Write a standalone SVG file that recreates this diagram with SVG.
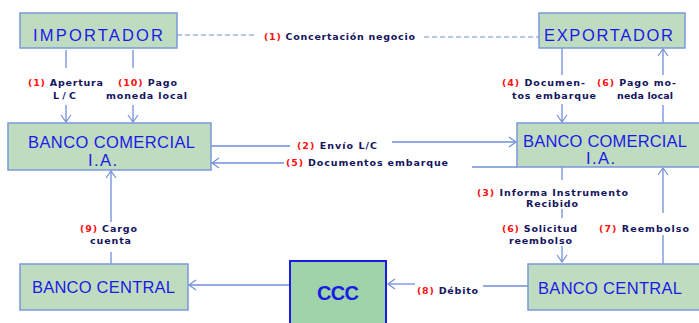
<svg xmlns="http://www.w3.org/2000/svg" width="699" height="323" viewBox="0 0 699 323">
<style>
.box{fill:#c0dcc0;stroke:#7b98dc;stroke-width:1.5}
.ccc{fill:#9fd3a9;stroke:#1a1ae6;stroke-width:2}
.bt{font-family:"Liberation Sans",Arial,sans-serif;font-size:16.5px;fill:#1a1ae6}
.ct{font-family:"Liberation Sans",Arial,sans-serif;font-size:20px;font-weight:bold;fill:#1a1ae6}
.lb{font-family:"DejaVu Sans",Verdana,sans-serif;font-size:9.5px;font-weight:bold;fill:#14145e}
.n{fill:#ff1010}
.ln{fill:none;stroke:#6f8fd8;stroke-width:1.3}
.dash{fill:none;stroke:#6f8fd8;stroke-width:1.1;stroke-dasharray:5,3}
</style>
<defs>
<marker id="ah" markerWidth="9" markerHeight="12" refX="8" refY="6" orient="auto" markerUnits="userSpaceOnUse">
<path d="M1,1 L8,6 L1,11" fill="none" stroke="#6f8fd8" stroke-width="1.2"/>
</marker>
</defs>
<rect width="699" height="323" fill="#ffffff"/>

<g id="connectors">
<path class="dash" d="M177,35 L257,35"/>
<path class="dash" d="M424,37 L539,37"/>
<path class="ln" d="M66,50 L66,68"/>
<path class="ln" d="M66,105 L66,122" marker-end="url(#ah)"/>
<path class="ln" d="M133,50 L133,68"/>
<path class="ln" d="M133,105 L133,122" marker-end="url(#ah)"/>
<path class="ln" d="M562,48 L562,75"/>
<path class="ln" d="M562,104 L562,122" marker-end="url(#ah)"/>
<path class="ln" d="M663,123 L663,105"/>
<path class="ln" d="M663,75 L663,49" marker-end="url(#ah)"/>
<path class="ln" d="M211,146 L290,146"/>
<path class="ln" d="M392,142 L516,142" marker-end="url(#ah)"/>
<path class="ln" d="M517,167 L472,167"/>
<path class="ln" d="M284,163 L212,163" marker-end="url(#ah)"/>
<path class="ln" d="M562,167 L562,180"/>
<path class="ln" d="M562,209 L562,218"/>
<path class="ln" d="M562,246 L562,262" marker-end="url(#ah)"/>
<path class="ln" d="M663,264 L663,235"/>
<path class="ln" d="M663,213 L663,168" marker-end="url(#ah)"/>
<path class="ln" d="M528,286 L483,286"/>
<path class="ln" d="M415,284 L388,284" marker-end="url(#ah)"/>
<path class="ln" d="M290,285 L189,285" marker-end="url(#ah)"/>
<path class="ln" d="M111,264 L111,252"/>
<path class="ln" d="M111,222 L111,171" marker-end="url(#ah)"/>
</g>

<g id="labels">
<text class="lb" x="264" y="40" textLength="151" lengthAdjust="spacing"><tspan class="n">(1)</tspan> Concertación negocio</text>
<text class="lb" x="28" y="86" textLength="75" lengthAdjust="spacing"><tspan class="n">(1)</tspan> Apertura</text>
<text class="lb" x="53" y="99" textLength="23" lengthAdjust="spacing">L/C</text>
<text class="lb" x="118" y="86" textLength="59" lengthAdjust="spacing"><tspan class="n">(10)</tspan> Pago</text>
<text class="lb" x="106" y="99" textLength="81" lengthAdjust="spacing">moneda local</text>
<text class="lb" x="502" y="86" textLength="83" lengthAdjust="spacing"><tspan class="n">(4)</tspan> Documen-</text>
<text class="lb" x="512" y="99" textLength="84" lengthAdjust="spacing">tos embarque</text>
<text class="lb" x="597" y="86" textLength="79" lengthAdjust="spacing"><tspan class="n">(6)</tspan> Pago mo-</text>
<text class="lb" x="617" y="99" textLength="56" lengthAdjust="spacing">neda local</text>
<text class="lb" x="297" y="149" textLength="80" lengthAdjust="spacing"><tspan class="n">(2)</tspan> Envío L/C</text>
<text class="lb" x="286" y="166" textLength="162" lengthAdjust="spacing"><tspan class="n">(5)</tspan> Documentos embarque</text>
<text class="lb" x="477" y="196" textLength="151" lengthAdjust="spacing"><tspan class="n">(3)</tspan> Informa Instrumento</text>
<text class="lb" x="526" y="207" textLength="52" lengthAdjust="spacing">Recibido</text>
<text class="lb" x="502" y="232" textLength="75" lengthAdjust="spacing"><tspan class="n">(6)</tspan> Solicitud</text>
<text class="lb" x="509" y="244" textLength="63" lengthAdjust="spacing">reembolso</text>
<text class="lb" x="599" y="232" textLength="90" lengthAdjust="spacing"><tspan class="n">(7)</tspan> Reembolso</text>
<text class="lb" x="417" y="294" textLength="61" lengthAdjust="spacing"><tspan class="n">(8)</tspan> Débito</text>
<text class="lb" x="80" y="232" textLength="57" lengthAdjust="spacing"><tspan class="n">(9)</tspan> Cargo</text>
<text class="lb" x="90" y="244" textLength="41" lengthAdjust="spacing">cuenta</text>
</g>

<g id="importador">
<rect class="box" x="20" y="13" width="157" height="35"/>
<text class="bt" x="33" y="41" textLength="130" lengthAdjust="spacing">IMPORTADOR</text>
</g>
<g id="exportador">
<rect class="box" x="539" y="13" width="146" height="35"/>
<text class="bt" x="544" y="41" textLength="129" lengthAdjust="spacing">EXPORTADOR</text>
</g>
<g id="banco-comercial-i">
<rect class="box" x="8" y="123" width="203" height="47"/>
<text class="bt" x="28" y="148" textLength="167" lengthAdjust="spacing">BANCO COMERCIAL</text>
<text class="bt" x="88" y="166" textLength="29" lengthAdjust="spacing">I.A.</text>
</g>
<g id="banco-comercial-e">
<rect class="box" x="517" y="123" width="190" height="44"/>
<text class="bt" x="523" y="147" textLength="164" lengthAdjust="spacing">BANCO COMERCIAL</text>
<text class="bt" x="586" y="164" textLength="29" lengthAdjust="spacing">I.A.</text>
</g>
<g id="banco-central-i">
<rect class="box" x="20" y="264" width="168" height="46"/>
<text class="bt" x="32" y="293" textLength="143" lengthAdjust="spacing">BANCO CENTRAL</text>
</g>
<g id="ccc">
<rect class="ccc" x="290" y="261" width="96" height="70"/>
<text class="ct" x="317" y="300" textLength="42" lengthAdjust="spacing">CCC</text>
</g>
<g id="banco-central-e">
<rect class="box" x="528" y="264" width="180" height="46"/>
<text class="bt" x="538" y="294" textLength="144" lengthAdjust="spacing">BANCO CENTRAL</text>
</g>
</svg>
